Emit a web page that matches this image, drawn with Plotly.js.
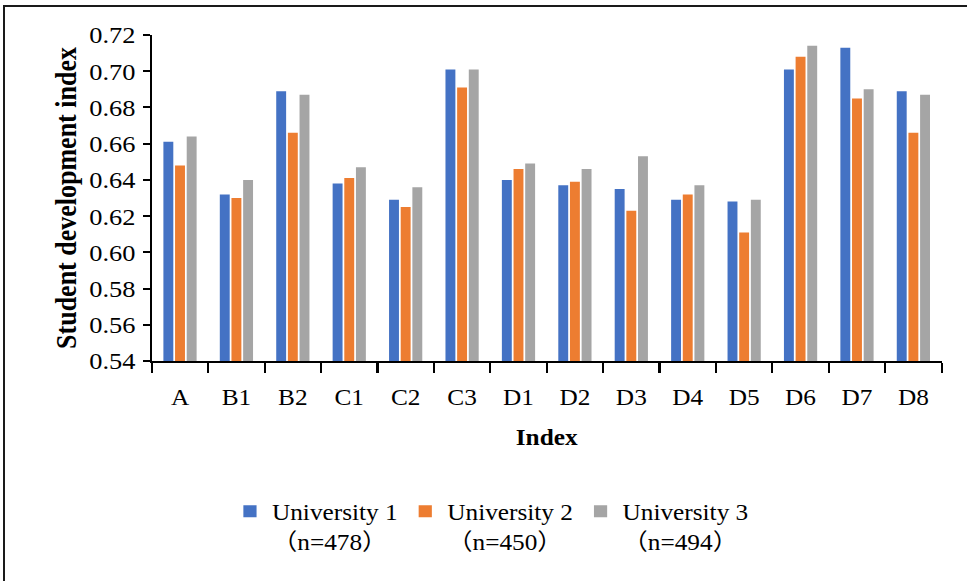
<!DOCTYPE html>
<html>
<head>
<meta charset="utf-8">
<script src="https://cdn.plot.ly/plotly-3.0.1.min.js"></script>
<style>
  html, body { margin: 0; padding: 0; background: #fff; overflow: hidden; }
  #frame {
    position: absolute; left: 3px; top: 5px; right: -5px; bottom: -5px;
    border-top: 2px solid #1a1a1a; border-left: 2px solid #1a1a1a;
    pointer-events: none;
  }
  #chart {
    position: absolute; left: 0; top: 0;
    width: 879px; height: 581px;
    transform: scaleX(1.1); transform-origin: 0 0;
  }
</style>
</head>
<body>
<div id="chart"></div>
<div id="frame"></div>
<script>
// Index categories on the x axis
const categories = ['A', 'B1', 'B2', 'C1', 'C2', 'C3', 'D1', 'D2', 'D3', 'D4', 'D5', 'D6', 'D7', 'D8'];

// Student development index per university
const university1 = [0.661, 0.632, 0.689, 0.638, 0.629, 0.701, 0.640, 0.637, 0.635, 0.629, 0.628, 0.701, 0.713, 0.689];
const university2 = [0.648, 0.630, 0.666, 0.641, 0.625, 0.691, 0.646, 0.639, 0.623, 0.632, 0.611, 0.708, 0.685, 0.666];
const university3 = [0.664, 0.640, 0.687, 0.647, 0.636, 0.701, 0.649, 0.646, 0.653, 0.637, 0.629, 0.714, 0.690, 0.687];

const seriesNames = ['University 1<br>（n=478）', 'University 2<br>（n=450）', 'University 3<br>（n=494）'];
const seriesColors = ['#4472C4', '#ED7D31', '#A5A5A5'];
const seriesValues = [university1, university2, university3];

const yTicks = [0.54, 0.56, 0.58, 0.60, 0.62, 0.64, 0.66, 0.68, 0.70, 0.72];

const FONT = '"Liberation Serif", "Times New Roman", "Noto Sans CJK SC", serif';

const traces = seriesValues.map((vals, i) => ({
  type: 'bar',
  name: seriesNames[i],
  x: categories,
  y: vals,
  marker: { color: seriesColors[i] },
  hoverinfo: 'x+y'
}));

const layout = {
  width: 879,
  height: 581,
  margin: { l: 138, r: 23, t: 35, b: 220 },
  paper_bgcolor: '#ffffff',
  plot_bgcolor: '#ffffff',
  font: { family: FONT, size: 23, color: '#000' },
  barmode: 'group',
  bargap: 0.38,
  bargroupgap: 0.15,
  showlegend: true,
  legend: {
    orientation: 'h',
    x: 0.43, xanchor: 'center',
    y: -0.395, yanchor: 'top',
    valign: 'top',
    font: { family: FONT, size: 23, color: '#000' },
    traceorder: 'normal',
    itemclick: false
  },
  xaxis: {
    type: 'category',
    showgrid: false,
    zeroline: false,
    showline: true,
    linecolor: '#000',
    linewidth: 2,
    ticks: 'outside',
    tickson: 'boundaries',
    ticklen: 10,
    tickwidth: 1.8,
    tickcolor: '#000',
    ticklabelstandoff: 14,
    tickfont: { family: FONT, size: 23, color: '#000' },
    title: { text: '<b>Index</b>', font: { family: FONT, size: 23, color: '#000' }, standoff: 20 }
  },
  yaxis: {
    range: [0.54, 0.72],
    tickvals: yTicks,
    tickformat: '.2f',
    showgrid: false,
    zeroline: false,
    showline: true,
    linecolor: '#000',
    linewidth: 2,
    ticks: 'outside',
    ticklen: 6,
    tickwidth: 2,
    tickcolor: '#000',
    ticklabelstandoff: 2,
    tickfont: { family: FONT, size: 24, color: '#000' },
    title: { text: '<b>Student development index</b>', font: { family: FONT, size: 26, color: '#000' }, standoff: 4 }
  }
};

Plotly.newPlot('chart', traces, layout, { displayModeBar: false });
</script>
</body>
</html>
